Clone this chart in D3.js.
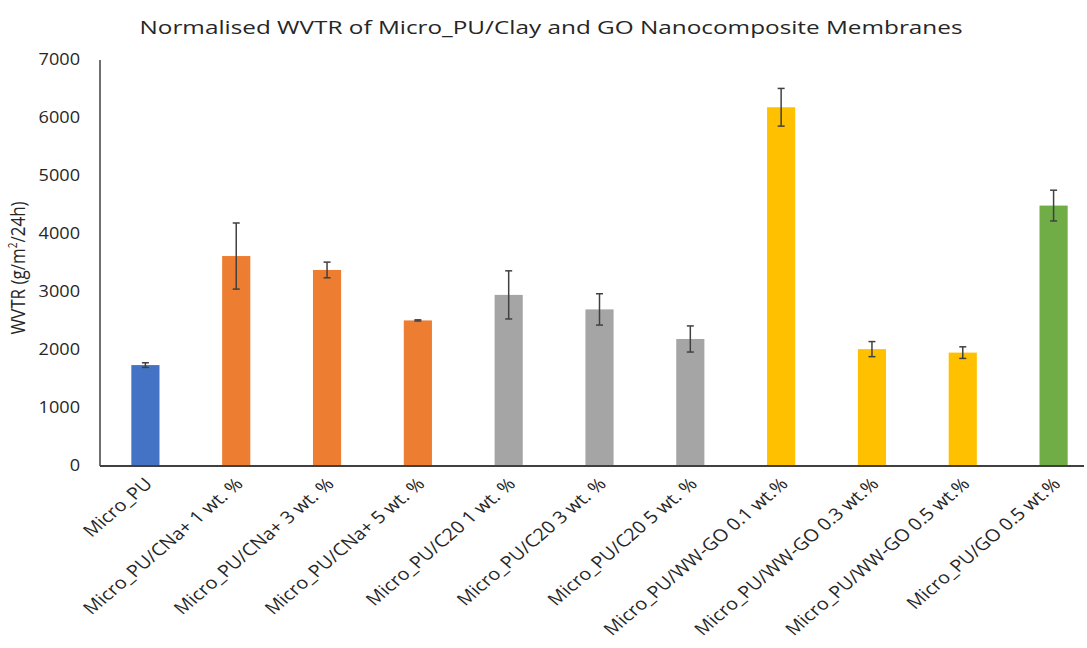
<!DOCTYPE html>
<html>
<head>
<meta charset="utf-8">
<script src="https://cdn.jsdelivr.net/npm/d3@7"></script>
<style>
  html, body { margin: 0; padding: 0; background: #ffffff; }
  svg { display: block; }
  text { font-family: "Open Sans", "Liberation Sans", sans-serif; fill: #262626; }
</style>
</head>
<body>
<svg id="chart" width="1087" height="648"></svg>
<script>
// Sample names, one per bar
const categories = [
  "Micro_PU",
  "Micro_PU/CNa+ 1 wt. %",
  "Micro_PU/CNa+ 3 wt. %",
  "Micro_PU/CNa+ 5 wt. %",
  "Micro_PU/C20 1 wt. %",
  "Micro_PU/C20 3 wt. %",
  "Micro_PU/C20 5 wt. %",
  "Micro_PU/WW-GO 0.1 wt.%",
  "Micro_PU/WW-GO 0.3 wt.%",
  "Micro_PU/WW-GO 0.5 wt.%",
  "Micro_PU/GO 0.5 wt.%"
];
// Mean WVTR (g/m²/24h)
const wvtr = [1740, 3620, 3380, 2510, 2950, 2700, 2190, 6185, 2015, 1955, 4490];
// Standard deviation shown as error bars
const wvtrError = [40, 570, 135, 10, 415, 270, 225, 325, 130, 100, 265];
// Filler group of each sample
const groups = ["neat", "CNa", "CNa", "CNa", "C20", "C20", "C20", "WWGO", "WWGO", "WWGO", "GO"];
const groupColors = { neat: "#4472C4", CNa: "#ED7D31", C20: "#A5A5A5", WWGO: "#FFC000", GO: "#70AD47" };
// Y axis tick values
const yTicks = [0, 1000, 2000, 3000, 4000, 5000, 6000, 7000];

const stretch = 1.17;   // horizontal text stretch
const svg = d3.select("#chart");

const x = d3.scaleBand()
  .domain(categories)
  .range([100, 1099])
  .paddingInner(0.69)
  .paddingOuter(0.345);

const y = d3.scaleLinear().domain([0, 7000]).range([466, 60]);

// Title
svg.append("text")
  .attr("x", 551).attr("y", 34)
  .attr("text-anchor", "middle")
  .attr("font-size", 19)
  .attr("textLength", 823)
  .attr("lengthAdjust", "spacingAndGlyphs")
  .text("Normalised WVTR of Micro_PU/Clay and GO Nanocomposite Membranes");

// Y tick labels
svg.append("g").selectAll("text")
  .data(yTicks)
  .join("text")
  .attr("transform", d => `translate(80,${y(d)}) scale(${stretch},1)`)
  .attr("dy", "0.35em")
  .attr("text-anchor", "end")
  .attr("font-size", 15.5)
  .text(d => d);

// Y axis title
const yTitle = svg.append("text")
  .attr("transform", `translate(25,268) scale(${stretch},1) rotate(-90)`)
  .attr("text-anchor", "middle")
  .attr("font-size", 17);
yTitle.append("tspan").text("WVTR (g/m");
yTitle.append("tspan").attr("font-size", 10).attr("dy", -7).text("2");
yTitle.append("tspan").attr("dy", 7).text("/24h)");

// Bars
svg.append("g").selectAll("rect")
  .data(categories)
  .join("rect")
  .attr("x", d => x(d))
  .attr("width", x.bandwidth())
  .attr("y", (d, i) => y(wvtr[i]))
  .attr("height", (d, i) => y(0) - y(wvtr[i]))
  .attr("fill", (d, i) => groupColors[groups[i]]);

// Error bars
const eb = svg.append("g")
  .attr("stroke", "#404040")
  .attr("stroke-width", 1.5)
  .selectAll("g")
  .data(categories)
  .join("g")
  .attr("transform", d => `translate(${x(d) + x.bandwidth() / 2},0)`);
eb.append("line")
  .attr("y1", (d, i) => y(wvtr[i] + wvtrError[i]))
  .attr("y2", (d, i) => y(wvtr[i] - wvtrError[i]));
eb.append("line").attr("x1", -3.5).attr("x2", 3.5)
  .attr("y1", (d, i) => y(wvtr[i] + wvtrError[i]))
  .attr("y2", (d, i) => y(wvtr[i] + wvtrError[i]));
eb.append("line").attr("x1", -3.5).attr("x2", 3.5)
  .attr("y1", (d, i) => y(wvtr[i] - wvtrError[i]))
  .attr("y2", (d, i) => y(wvtr[i] - wvtrError[i]));

// Axis lines
svg.append("line")
  .attr("x1", 100).attr("x2", 100)
  .attr("y1", y(7000)).attr("y2", y(0))
  .attr("stroke", "#404040").attr("stroke-width", 1.5);
svg.append("line")
  .attr("x1", 100).attr("x2", 1084)
  .attr("y1", y(0)).attr("y2", y(0))
  .attr("stroke", "#404040").attr("stroke-width", 1.8);

// Category labels, slanted
svg.append("g").selectAll("text")
  .data(categories)
  .join("text")
  .attr("transform", d => `translate(${x(d) + x.bandwidth() / 2 + 8},485) scale(${stretch},1) rotate(-45)`)
  .attr("text-anchor", "end")
  .attr("font-size", 17)
  .text(d => d);
</script>
</body>
</html>
